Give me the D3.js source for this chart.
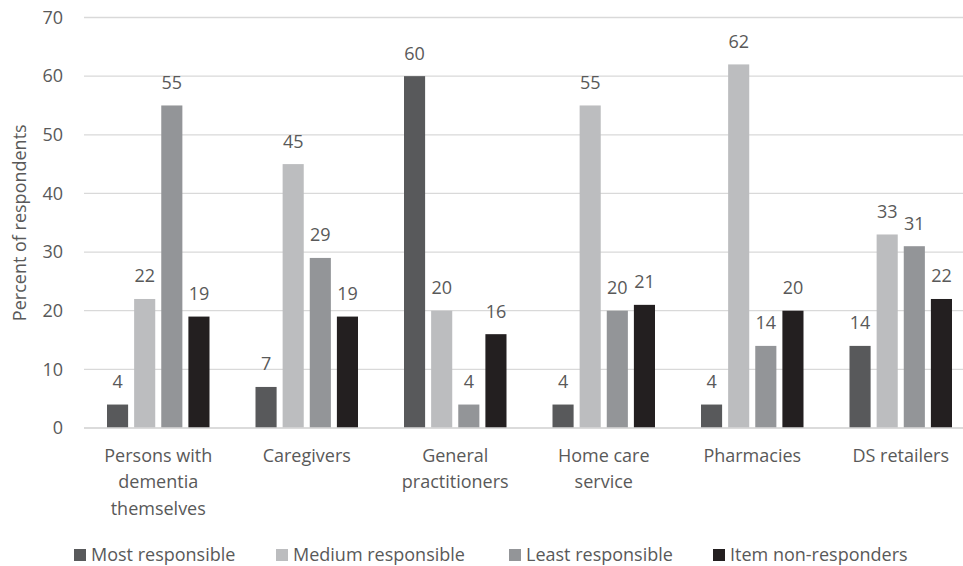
<!DOCTYPE html>
<html>
<head>
<meta charset="utf-8">
<script src="https://cdn.jsdelivr.net/npm/d3@7"></script>
<style>
  html, body { margin: 0; padding: 0; background: #fff; }
  svg { display: block; }
  text { font-family: "Open Sans", "Noto Sans", sans-serif; fill: #595959; }
</style>
</head>
<body>
<svg id="chart" width="963" height="566"></svg>
<script>
// Responsibility ratings by stakeholder group (percent of respondents)
const categories = [
  ["Persons with", "dementia", "themselves"],
  ["Caregivers"],
  ["General", "practitioners"],
  ["Home care", "service"],
  ["Pharmacies"],
  ["DS retailers"]
];
const seriesNames = ["Most responsible", "Medium responsible", "Least responsible", "Item non-responders"];
const mostResponsible   = [4, 7, 60, 4, 4, 14];
const mediumResponsible = [22, 45, 20, 55, 62, 33];
const leastResponsible  = [55, 29, 4, 20, 14, 31];
const itemNonResponders = [19, 19, 16, 21, 20, 22];
const yTicks = [0, 10, 20, 30, 40, 50, 60, 70];
const colors = ["#58595b", "#bcbdbf", "#939598", "#231f20"];

const seriesValues = [mostResponsible, mediumResponsible, leastResponsible, itemNonResponders];
const catKeys = categories.map(c => c.join(" "));

const W = 963, H = 566;
const FS = 18;
const plot = { left: 84, right: 975, top: 17.5, bottom: 428 };

const svg = d3.select("#chart");

const x = d3.scaleBand().domain(catKeys).range([plot.left, plot.right]).padding(0);
const inner = d3.scaleBand().domain(d3.range(seriesNames.length))
  .range([23, x.bandwidth() - 23]).paddingInner(0.222).paddingOuter(0);
const y = d3.scaleLinear().domain([0, 70]).range([plot.bottom, plot.top]);

// horizontal gridlines
svg.append("g").selectAll("line").data(yTicks).join("line")
  .attr("x1", plot.left).attr("x2", W)
  .attr("y1", d => y(d)).attr("y2", d => y(d))
  .attr("stroke", "#d9d9d9").attr("stroke-width", 1.3);

// y axis tick labels
const yAxis = d3.axisLeft(y).tickValues(yTicks).tickSize(0).tickPadding(21);
const yg = svg.append("g").attr("transform", `translate(${plot.left},0)`).call(yAxis);
yg.select(".domain").remove();
yg.selectAll("text").attr("font-size", FS).attr("fill", "#595959")
  .style("font-family", '"Open Sans", sans-serif');

// y axis title
svg.append("text")
  .attr("transform", `translate(26,${(plot.top + plot.bottom) / 2}) rotate(-90)`)
  .attr("text-anchor", "middle").attr("font-size", FS)
  .text("Percent of respondents");

// bars and value labels
const groups = svg.append("g").selectAll("g").data(catKeys).join("g")
  .attr("transform", d => `translate(${x(d)},0)`);

groups.each(function (cat, ci) {
  const g = d3.select(this);
  const vals = seriesValues.map((s, si) => ({ si, v: s[ci] }));
  g.selectAll("rect").data(vals).join("rect")
    .attr("x", d => inner(d.si))
    .attr("width", inner.bandwidth())
    .attr("y", d => y(d.v))
    .attr("height", d => y(0) - y(d.v))
    .attr("fill", d => colors[d.si]);
  g.selectAll("text.val").data(vals).join("text")
    .attr("class", "val")
    .attr("x", d => inner(d.si) + inner.bandwidth() / 2)
    .attr("y", d => y(d.v) - 16.5)
    .attr("text-anchor", "middle")
    .attr("font-size", FS)
    .text(d => d.v);
});

// baseline
svg.append("line")
  .attr("x1", plot.left).attr("x2", W)
  .attr("y1", y(0)).attr("y2", y(0))
  .attr("stroke", "#d9d9d9").attr("stroke-width", 1.3);

// category labels (multi-line)
categories.forEach((lines, ci) => {
  const cx = x(catKeys[ci]) + x.bandwidth() / 2;
  const t = svg.append("text")
    .attr("x", cx)
    .attr("y", 461.5)
    .attr("text-anchor", "middle")
    .attr("font-size", FS);
  lines.forEach((ln, li) => {
    t.append("tspan").attr("x", cx)
      .attr("dy", li === 0 ? 0 : 26.5).text(ln);
  });
});

// legend
const legendTextX = [91, 293, 526, 730];
const lg = svg.append("g").selectAll("g").data(seriesNames).join("g")
  .attr("transform", (d, i) => `translate(${legendTextX[i]},0)`);
lg.append("rect").attr("x", -17).attr("y", 549).attr("width", 12).attr("height", 12)
  .attr("fill", (d, i) => colors[i]);
lg.append("text").attr("x", 0).attr("y", 561).attr("font-size", FS).text(d => d);
</script>
</body>
</html>
